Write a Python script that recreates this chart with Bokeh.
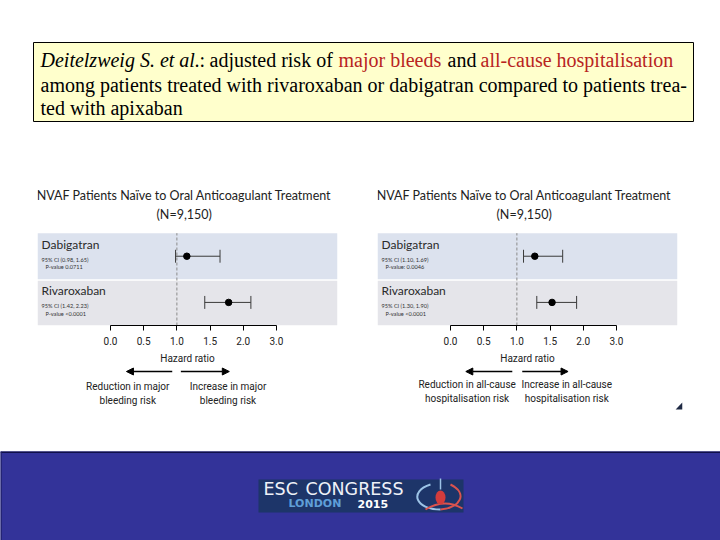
from bokeh.plotting import figure
from bokeh.layouts import column, row
from bokeh.models import (Range1d, FixedTicker, Arrow, NormalHead, CustomJSTransform,
                          ColumnDataSource, CustomJSTickFormatter)
from bokeh.transform import transform
from bokeh.core.properties import value
from bokeh.embed import file_html
from bokeh.resources import INLINE

# ---------------- data ----------------
drugs = ["Dabigatran", "Rivaroxaban"]
bleed_hr = [1.15, 1.78]
bleed_lo = [0.98, 1.42]
bleed_hi = [1.65, 2.23]
bleed_p = ["P-value 0.0711", "P-value <0.0001"]
hosp_hr = [1.27, 1.53]
hosp_lo = [1.10, 1.30]
hosp_hi = [1.69, 1.90]
hosp_p = ["P-value: 0.0046", "P-value <0.0001"]
axis_ticks = [0.0, 0.5, 1.0, 1.5, 2.0, 3.0]
panel_title = ["NVAF Patients Naïve to Oral Anticoagulant Treatment", "(N=9,150)"]
bleed_arrows = [["Reduction in major", "bleeding risk"], ["Increase in major", "bleeding risk"]]
hosp_arrows = [["Reduction in all-cause", "hospitalisation risk"], ["Increase in all-cause", "hospitalisation risk"]]

# axis with a break above 2.0 (3.0 drawn at half spacing)
BREAK = 2.0
brk = CustomJSTransform(
    func="return x <= 2 ? x : 2 + (x - 2) / 2",
    v_func="return Array.from(xs, (x) => x <= 2 ? x : 2 + (x - 2) / 2)")
tick_pos = [t if t <= BREAK else BREAK + (t - BREAK) / 2 for t in axis_ticks]
tick_lab = [f"{t:.1f}" for t in axis_ticks]

XR = (-1.10, 3.42)
NARROW = "Roboto"
SANS = "Lato"
BAND_COLORS = ["#dce2ee", "#e5e5ea"]


def forest(hr, lo, hi, ptxt, width, bl, br, xr):
    n = len(drugs)
    ys = [n - i - 0.5 for i in range(n)]
    src = ColumnDataSource(dict(
        hr=hr, lo=lo, hi=hi, y=ys,
        ylo=[y - 0.14 for y in ys], yhi=[y + 0.14 for y in ys],
        bb=[y - 0.5 for y in ys], bt=[y + 0.5 - (0.03 if i > 0 else 0) for i, y in enumerate(ys)],
        col=BAND_COLORS,
        name=drugs, ny=[y + 0.25 for y in ys],
        ci=[f"95% CI ({a:.2f}, {b:.2f})" for a, b in zip(lo, hi)], cy=[y - 0.06 for y in ys],
        pv=ptxt, py=[y - 0.23 for y in ys],
    ))
    p = figure(width=width, height=186, x_range=xr, y_range=Range1d(0, 3.14),
               output_backend="svg", toolbar_location=None,
               min_border_left=bl, min_border_right=br, min_border_top=0, min_border_bottom=40,
               y_axis_location=None, outline_line_color=None)
    p.xgrid.visible = False
    p.ygrid.visible = False
    p.quad(left=XR[0], right=XR[1], bottom="bb", top="bt", fill_color="col", line_color=None, source=src)
    p.segment(x0=1.0, y0=0, x1=1.0, y1=float(n), line_color="#8a8a8a", line_dash="3 2", line_width=1)
    p.segment(x0=transform("lo", brk), y0="y", x1=transform("hi", brk), y1="y",
              line_color="#3a3a3a", line_width=1, source=src)
    p.segment(x0=transform("lo", brk), y0="ylo", x1=transform("lo", brk), y1="yhi",
              line_color="#3a3a3a", line_width=1, source=src)
    p.segment(x0=transform("hi", brk), y0="ylo", x1=transform("hi", brk), y1="yhi",
              line_color="#3a3a3a", line_width=1, source=src)
    p.scatter(x=transform("hr", brk), y="y", size=6.5, color="black", source=src)
    p.text(x=-1.04, y="ny", text="name", text_font=value(SANS), text_font_size="12px",
           text_baseline="middle", text_color="#2a2a2a", source=src)
    p.text(x=-1.04, y="cy", text="ci", text_font=value(SANS), text_font_size="5.6px",
           text_baseline="middle", text_color="#333333", source=src)
    p.text(x=-0.98, y="py", text="pv", text_font=value(SANS), text_font_size="5.6px",
           text_baseline="middle", text_color="#333333", source=src)
    p.text(x=1.11, y=[2.82, 2.40], text=panel_title, text_font=value(SANS), text_font_size="12.5px",
           text_align="center", text_baseline="middle", text_color="#222222")
    ax = p.xaxis[0]
    ax.ticker = FixedTicker(ticks=tick_pos)
    ax.formatter = CustomJSTickFormatter(args=dict(pos=tick_pos, labs=tick_lab), code="""
        for (let i = 0; i < pos.length; i++) { if (Math.abs(pos[i] - tick) < 1e-6) return labs[i]; }
        return '';""")
    ax.bounds = (0, tick_pos[-1])
    ax.axis_line_color = "black"
    ax.major_tick_line_color = "black"
    ax.major_tick_out = 5
    ax.major_tick_in = 0
    ax.minor_tick_line_color = None
    ax.major_label_text_font = NARROW
    ax.major_label_text_font_size = "10px"
    ax.major_label_text_color = "#222222"
    ax.major_label_standoff = 6
    ax.axis_label = "Hazard ratio"
    ax.axis_label_text_font = NARROW
    ax.axis_label_text_font_size = "10px"
    ax.axis_label_text_font_style = "normal"
    ax.axis_label_text_color = "#222222"
    ax.axis_label_standoff = 5
    return p


def arrows(texts, width, bl, br, xr, xs_left, xs_right, ty, corner=False):
    p = figure(width=width, height=85, x_range=xr, y_range=Range1d(85, 0),
               output_backend="svg", toolbar_location=None,
               min_border_left=bl, min_border_right=br, min_border_top=0, min_border_bottom=0,
               x_axis_location=None, y_axis_location=None, outline_line_color=None)
    p.xgrid.visible = False
    p.ygrid.visible = False
    for (x0, x1) in (xs_left, xs_right):
        p.add_layout(Arrow(end=NormalHead(size=7, fill_color="black", line_color="black"),
                           x_start=x0, y_start=5, x_end=x1, y_end=5,
                           line_color="black", line_width=1.3))
    cx = [xs_left[1] + 0.02, xs_right[1] - 0.02]
    for k in range(2):
        p.text(x=[cx[k], cx[k]], y=[ty, ty + 14], text=texts[k], text_font=value(NARROW),
               text_font_size="10px", text_align="center", text_baseline="middle",
               text_color="#222222")
    if corner:
        p.patch(x=[3.49, 3.49, 3.39], y=[36, 43, 43], fill_color="#1f2a44", line_color=None)
    return p


# ---------------- title box ----------------
top = figure(width=720, height=180, x_range=Range1d(0, 720), y_range=Range1d(180, 0),
             output_backend="svg", toolbar_location=None, min_border=0,
             x_axis_location=None, y_axis_location=None, outline_line_color=None)
top.xgrid.visible = False
top.ygrid.visible = False
top.quad(left=33, right=693, top=42, bottom=121, fill_color="#ffffcc", line_color="black", line_width=1)
RED = "#b8241f"
segs = [("Deitelzweig S. et al", "italic", "black", 40),
        (".:", "normal", "black", 194),
        ("adjusted risk of", "normal", "black", 209),
        ("major bleeds", "normal", RED, 338),
        ("and", "normal", "black", 447),
        ("all-cause hospitalisation", "normal", RED, 480)]
for t, st, c, x in segs:
    top.text(x=[x], y=[59], text=[t], text_font=value("Liberation Serif"), text_font_size="20px",
             text_font_style=st, text_color=c, text_baseline="middle")
top.text(x=[40, 40], y=[84, 107],
         text=["among patients treated with rivaroxaban or dabigatran compared to patients trea-",
               "ted with apixaban"],
         text_font=value("Liberation Serif"), text_font_size="20px", text_color="black",
         text_baseline="middle")

# ---------------- forest panels ----------------
xr_l = Range1d(*XR)
xr_r = Range1d(*XR)
xr_ra = Range1d(XR[0], XR[0] + 313 / 66.4)
f_left = forest(bleed_hr, bleed_lo, bleed_hi, bleed_p, 357, 37, 20, xr_l)
f_right = forest(hosp_hr, hosp_lo, hosp_hi, hosp_p, 363, 20, 43, xr_r)
a_left = arrows(bleed_arrows, 357, 37, 20, xr_l, (0.93, 0.24), (1.06, 1.79), 20)
a_right = arrows(hosp_arrows, 363, 20, 30, xr_ra, (0.93, 0.23), (1.08, 1.77), 18, corner=True)

# ---------------- bottom band ----------------
bot = figure(width=720, height=89, x_range=Range1d(0, 720), y_range=Range1d(89, 0),
             output_backend="svg", toolbar_location=None, min_border=0,
             x_axis_location=None, y_axis_location=None, outline_line_color=None,
             background_fill_color="#333399", border_fill_color="#333399")
bot.xgrid.visible = False
bot.ygrid.visible = False
bot.segment(x0=0, y0=0.5, x1=720, y1=0.5, line_color="#10104a", line_width=2)
bot.segment(x0=0.5, y0=0, x1=0.5, y1=89, line_color="#20206a", line_width=1.5)
bot.quad(left=258, right=463, top=28, bottom=61, fill_color="#1d3569", line_color=None)
bot.text(x=[263, 305], y=[37, 37], text=["ESC", "CONGRESS"], text_font=value("DejaVu Sans"),
         text_font_size="17.5px", text_color="#eef1f8", text_baseline="middle")
bot.text(x=[288], y=[52], text=["LONDON"], text_font=value("DejaVu Sans"), text_font_style="bold",
         text_font_size="11px", text_color="#5f9fd8", text_baseline="middle")
bot.text(x=[357], y=[52], text=["2015"], text_font=value("DejaVu Sans"), text_font_style="bold",
         text_font_size="11px", text_color="#ffffff", text_baseline="middle")
bot.bezier(x0=[430], y0=[33], x1=[440], y1=[58], cx0=[408], cy0=[40], cx1=[415], cy1=[58],
           line_color="#9cc3e6", line_width=2)
bot.bezier(x0=[450], y0=[33], x1=[440], y1=[58], cx0=[468], cy0=[42], cx1=[460], cy1=[56],
           line_color="#d9534f", line_width=2)
bot.bezier(x0=[425], y0=[58], x1=[462], y1=[57], cx0=[438], cy0=[50], cx1=[450], cy1=[50],
           line_color="#d9534f", line_width=2)
bot.segment(x0=[440], y0=[27], x1=[440], y1=[38], line_color="#9cc3e6", line_width=1.5)
bot.ellipse(x=[440], y=[46], width=10, height=14, fill_color="#d23c3c", line_color=None)

layout = column(top, row(f_left, f_right), row(a_left, a_right), bot)
open("out.html", "w").write(file_html(layout, INLINE))
